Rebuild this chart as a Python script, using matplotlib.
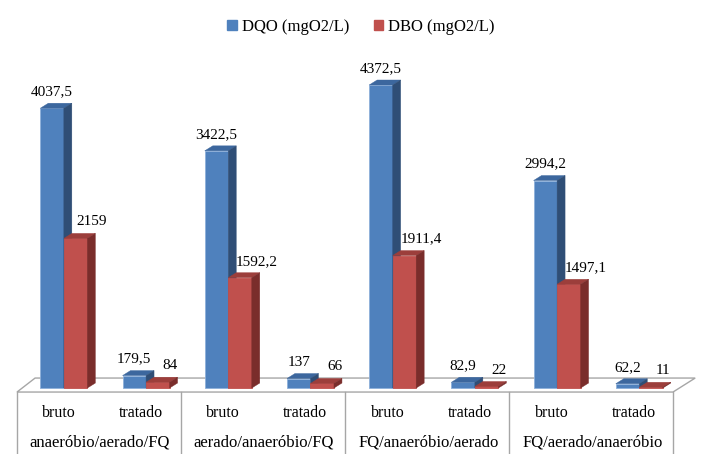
import numpy as np
import matplotlib.pyplot as plt
from matplotlib.patches import Polygon, Patch

# DQO / DBO per treatment sequence, raw (bruto) and treated (tratado)
groups = ["anaeróbio/aerado/FQ", "aerado/anaeróbio/FQ", "FQ/anaeróbio/aerado", "FQ/aerado/anaeróbio"]
stages = ["bruto", "tratado"]
dqo = [4037.5, 179.5, 3422.5, 137, 4372.5, 82.9, 2994.2, 62.2]
dbo = [2159, 84, 1592.2, 66, 1911.4, 22, 1497.1, 11]
dqo_labels = ["4037,5", "179,5", "3422,5", "137", "4372,5", "82,9", "2994,2", "62,2"]
dbo_labels = ["2159", "84", "1592,2", "66", "1911,4", "22", "1497,1", "11"]

plt.rcParams['font.family'] = ['Liberation Serif', 'DejaVu Serif']
plt.rcParams['font.size'] = 11

BLUE = ("#4F81BD", "#3C679E", "#2F4E76")   # front, top, side
RED = ("#C0504D", "#9C3E3B", "#7A2D2B")
GRID = "#A6A6A6"

fig = plt.figure(figsize=(7.12, 4.54), dpi=100)
ax = fig.add_axes([17 / 712, 0, 656 / 712, 1])
ax.set_xlim(-0.57, 7.41)
ax.set_ylim(-952, 5599)
ax.axis('off')

w = 0.286          # bar width
dx, dy = 0.097, 72  # depth offset of the 3D faces


def bar3d(x0, h, cols, z):
    x1 = x0 + w
    ax.add_patch(Polygon([(x0, 0), (x1, 0), (x1, h), (x0, h)], closed=True,
                         fc=cols[0], ec="#8EB0DA" if cols is BLUE else cols[0],
                         lw=0.6, zorder=z))
    ax.add_patch(Polygon([(x0, h), (x1, h), (x1 + dx, h + dy), (x0 + dx, h + dy)],
                         closed=True, fc=cols[1], ec=cols[1], lw=0.3, zorder=z))
    ax.add_patch(Polygon([(x1, 0), (x1, h), (x1 + dx, h + dy), (x1 + dx, dy)],
                         closed=True, fc=cols[2], ec=cols[2], lw=0.3, zorder=z))


# floor
fl, fr = -0.57, 7.41
ax.add_patch(Polygon([(fl, -58), (fr, -58), (fr + 0.27, 144), (fl + 0.22, 144)],
                     closed=True, fc="white", ec=GRID, lw=1.0, zorder=1, clip_on=False))

x = np.arange(len(dqo))
for i in x:
    bar3d(i - w, dqo[i], BLUE, 3 + 2 * i)
    bar3d(i, dbo[i], RED, 4 + 2 * i)
    shift = 0.2 if i % 2 == 0 else 0.15
    ax.annotate(dqo_labels[i], (i - w / 2, dqo[i] + dy), xytext=(0, 5),
                textcoords='offset pixels', ha='center', va='bottom', zorder=30)
    ax.annotate(dbo_labels[i], (i + w / 2 + shift, dbo[i] + dy), xytext=(0, 5),
                textcoords='offset pixels', ha='center', va='bottom', zorder=30)

# category table below the floor
for k in range(len(groups) + 1):
    xl = fl + 2 * k * (fr - fl) / 8
    ax.plot([xl, xl], [-58, -952], color=GRID, lw=1.0, clip_on=False, zorder=1)
for i in x:
    ax.text(i - 0.065, -361, stages[i % 2], ha='center', va='center', fontsize=11.5)
for g, name in enumerate(groups):
    ax.text(2 * g + 0.5 - 0.065, -779, name, ha='center', va='center', fontsize=12)

handles = [Patch(fc=BLUE[0], ec=BLUE[0]), Patch(fc=RED[0], ec=RED[0])]
fig.legend(handles, ["DQO (mgO2/L)", "DBO (mgO2/L)"], loc='center',
           bbox_to_anchor=(0.507, 0.94), ncol=2, frameon=False,
           handlelength=0.55, handleheight=0.55, handletextpad=0.3,
           columnspacing=1.5, fontsize=12)

fig.savefig("out.png", dpi=100)
